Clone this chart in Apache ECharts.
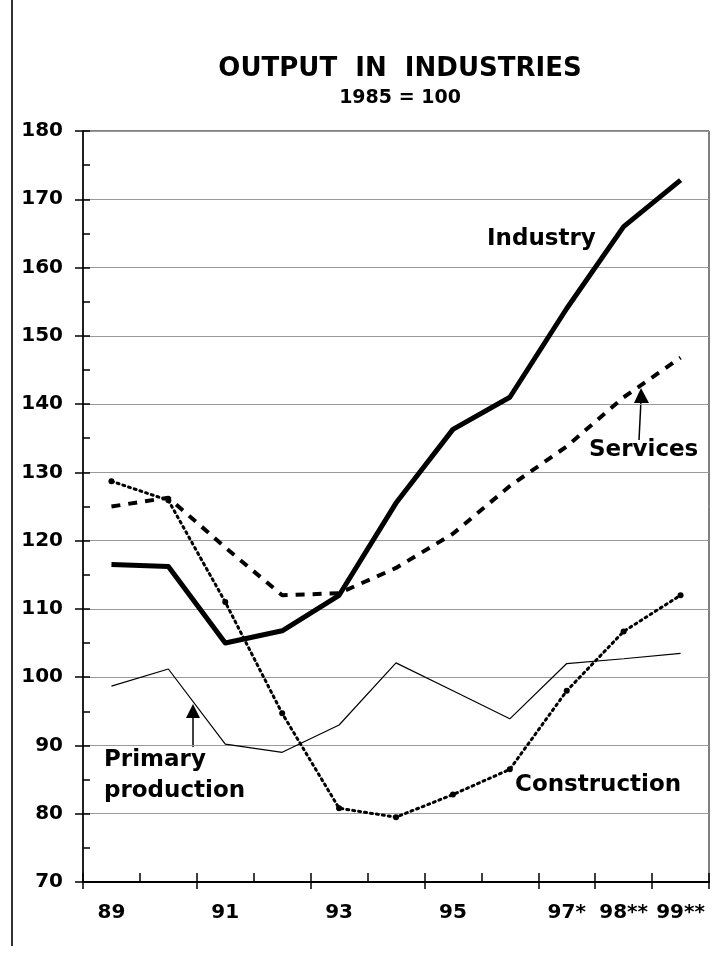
<!DOCTYPE html>
<html>
<head>
<meta charset="utf-8">
<title>Output in industries</title>
<script src="https://cdn.jsdelivr.net/npm/echarts@6/dist/echarts.min.js"></script>
<style>
  html, body { margin: 0; padding: 0; background: #fff; }
  #main { width: 716px; height: 955px; }
</style>
</head>
<body>
<div id="main"></div>
<script>
// years on the x axis (one category per year)
const years = ["89", "90", "91", "92", "93", "94", "95", "96", "97*", "98**", "99**"];
// which year labels are printed under the axis
const shownYears = ["89", "91", "93", "95", "97*", "98**", "99**"];
const yTicks = [70, 80, 90, 100, 110, 120, 130, 140, 150, 160, 170, 180];

// index values, 1985 = 100
const industry = [116.5, 116.2, 105, 106.8, 112, 125.5, 136.3, 141, 154, 166, 172.8];
const services = [125, 126.3, 119, 112, 112.3, 116, 121, 128, 133.8, 141, 146.8];
const construction = [128.7, 125.9, 111, 94.7, 80.8, 79.5, 82.8, 86.5, 98, 106.7, 112];
const primary = [98.7, 101.2, 90.2, 89, 93, 102.1, 98, 93.9, 102, 102.7, 103.5];

// the scan uses a wide bold grotesque, DejaVu Sans Bold gets the widths right
const FONT = "'DejaVu Sans', Verdana, sans-serif";

const myChart = echarts.init(document.getElementById("main"));

const options = {
  animation: false,
  title: {
    text: "OUTPUT  IN  INDUSTRIES",
    subtext: "1985 = 100",
    left: 395,
    textAlign: "center",
    top: 51,
    itemGap: 7,
    textStyle: { fontFamily: FONT, fontSize: 26, fontWeight: "bold", color: "#000" },
    subtextStyle: { fontFamily: FONT, fontSize: 19, fontWeight: "bold", color: "#000" },
  },
  grid: {
    left: 83,
    right: 7,
    top: 131,
    bottom: 73,
    show: true,
    borderColor: "#000",
    borderWidth: 1,
  },
  xAxis: [
    {
      type: "category",
      data: years,
      boundaryGap: true,
      axisLine: { lineStyle: { color: "#000", width: 2 } },
      axisTick: { show: true, length: 7, lineStyle: { color: "#000", width: 1.5 } },
      axisLabel: {
        interval: (i, v) => shownYears.indexOf(v) >= 0,
        margin: 21,
        fontFamily: FONT,
        fontSize: 20,
        fontWeight: "bold",
        color: "#000",
      },
      splitLine: { show: false },
    },
    {
      // same axis again, only for the part of the ticks above the line
      type: "category",
      data: years,
      position: "bottom",
      boundaryGap: true,
      axisLine: { show: false },
      axisTick: { show: true, inside: true, length: 9, lineStyle: { color: "#000", width: 1.5 } },
      axisLabel: { show: false },
    },
  ],
  yAxis: [
    {
      type: "value",
      min: yTicks[0],
      max: yTicks[yTicks.length - 1],
      interval: 10,
      axisLine: { show: true, lineStyle: { color: "#000", width: 1.5 } },
      axisTick: { show: true, length: 8, lineStyle: { color: "#000", width: 1.5 } },
      axisLabel: {
        margin: 20,
        fontFamily: FONT,
        fontSize: 20,
        fontWeight: "bold",
        color: "#000",
      },
      splitLine: { show: true, lineStyle: { color: "#999", width: 1 } },
    },
    {
      // minor ticks every 5, drawn inside the plot
      type: "value",
      min: yTicks[0],
      max: yTicks[yTicks.length - 1],
      interval: 5,
      position: "left",
      axisLine: { show: false },
      axisTick: { show: true, inside: true, length: 7, lineStyle: { color: "#000", width: 1.5 } },
      axisLabel: { show: false },
      splitLine: { show: false },
    },
  ],
  series: [
    {
      name: "Primary production",
      type: "line",
      data: primary,
      symbol: "none",
      lineStyle: { color: "#000", width: 1.2 },
      z: 2,
    },
    {
      name: "Construction",
      type: "line",
      data: construction,
      symbol: "circle",
      symbolSize: 6,
      itemStyle: { color: "#000" },
      lineStyle: { color: "#000", width: 3, type: [2, 4], cap: "round" },
      z: 3,
    },
    {
      name: "Services",
      type: "line",
      data: services,
      symbol: "none",
      lineStyle: { color: "#000", width: 4, type: [9, 8] },
      z: 4,
    },
    {
      name: "Industry",
      type: "line",
      data: industry,
      symbol: "none",
      lineStyle: { color: "#000", width: 5, join: "round" },
      z: 5,
    },
  ],
  graphic: [
    // page border on the left
    { type: "line", shape: { x1: 12, y1: 0, x2: 12, y2: 946 }, style: { stroke: "#333", lineWidth: 2 } },
    // series names
    { type: "text", left: 487, top: 228, style: { text: "Industry", font: "bold 23px " + FONT, fill: "#000" } },
    { type: "text", left: 589, top: 439, style: { text: "Services", font: "bold 23px " + FONT, fill: "#000" } },
    { type: "text", left: 515, top: 774, style: { text: "Construction", font: "bold 23px " + FONT, fill: "#000" } },
    { type: "text", left: 104, top: 745, style: { text: "Primary\nproduction", font: "bold 23px " + FONT, lineHeight: 31, fill: "#000" } },
    // arrows
    { type: "line", shape: { x1: 639, y1: 440, x2: 641, y2: 400 }, style: { stroke: "#000", lineWidth: 1.5 } },
    { type: "polygon", shape: { points: [[641, 388], [634, 403], [649, 403]] }, style: { fill: "#000" } },
    { type: "line", shape: { x1: 193, y1: 747, x2: 193, y2: 715 }, style: { stroke: "#000", lineWidth: 1.5 } },
    { type: "polygon", shape: { points: [[193, 704], [186, 718], [200, 718]] }, style: { fill: "#000" } },
  ],
};

myChart.setOption(options);
</script>
</body>
</html>
